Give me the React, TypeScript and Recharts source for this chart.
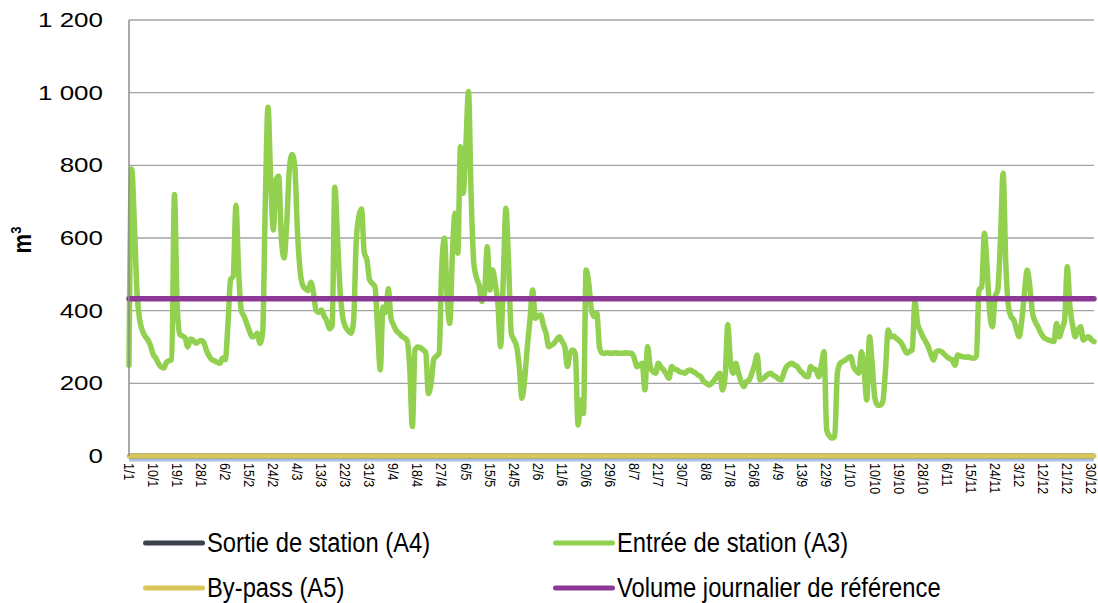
import React from "react";
import { LineChart, Line, XAxis, YAxis, CartesianGrid, ReferenceLine } from "recharts";

// Daily inflow (m3), leap year, 9/7 to 12/7 missing in the source
const ENTREE_A3 = [
  250, 790, 640, 450, 375, 345, 330, 320, 305, 280,
  270, 255, 245, 242, 258, 262, 265, 720, 420, 335,
  330, 325, 300, 322, 318, 310, 315, 318, 312, 290,
  275, 265, 262, 258, 255, 270, 265, 360, 485, 495,
  690, 510, 400, 385, 365, 345, 328, 330, 338, 310,
  340, 700, 960, 760, 622, 760, 770, 600, 545, 640,
  790, 830, 800, 620, 510, 470, 460, 455, 478, 450,
  400, 395, 402, 385, 372, 350, 360, 740, 600, 450,
  380, 355, 345, 338, 370, 590, 660, 680, 560, 540,
  485, 475, 466, 350, 237, 410, 395, 460, 380, 360,
  345, 338, 330, 325, 318, 246, 81, 292, 300, 298,
  292, 285, 172, 200, 265, 275, 283, 520, 599, 440,
  365, 560, 668, 558, 851, 723, 851, 1003, 714, 530,
  490, 470, 425, 448, 576, 457, 512, 475, 420, 301,
  484, 682, 530, 338, 320, 301, 246, 159, 210, 300,
  374, 457, 379, 385, 388, 360, 338, 301, 305, 310,
  320, 328, 315, 301, 246, 283, 292, 280, 85, 154,
  117, 512, 475, 402, 384, 393, 300, 283, 283, 284,
  283, 283, 284, 283, 283, 283, 284, 283, 283, 270,
  246, 250, 255, 182, 301, 246, 232, 228, 255, 245,
  237, 225, 214, 246, 240, 237, 232, 230, 228, 235,
  237, 232, 228, 222, 218, 205, 200, 195, 200, 209,
  220, 228, 182, 218, 361, 260, 228, 255, 228, 205,
  191, 205, 209, 228, 250, 278, 209, 212, 218, 225,
  228, 222, 218, 212, 209, 230, 246, 252, 255, 250,
  246, 235, 228, 220, 218, 246, 240, 237, 218, 250,
  287, 72, 55, 49, 53, 228, 255, 260, 264, 270,
  273, 246, 235, 228, 287, 237, 154, 328, 255, 160,
  140, 140, 150, 237, 347, 328, 330, 324, 318, 310,
  295, 283, 288, 292, 425, 365, 345, 328, 315, 301,
  280, 264, 287, 290, 287, 280, 273, 268, 264, 250,
  278, 275, 273, 272, 273, 270, 269, 275, 457, 466,
  613, 520, 393, 356, 439, 457, 594, 778, 530, 411,
  383, 374, 350, 328, 374, 450, 512, 466, 393, 370,
  356, 340, 328, 322, 319, 317, 315, 365, 328, 350,
  374, 521, 411, 360, 328, 347, 356, 319, 325, 328,
  320, 315,
];

const MONTH_DAYS = [31, 29, 31, 30, 31, 30, 31, 31, 30, 31, 30, 31];
const MISSING_DAYS = ["9/7", "10/7", "11/7", "12/7"];

const TICK_LABELS = [
  "1/1", "10/1", "19/1", "28/1", "6/2", "15/2", "24/2", "4/3", "13/3", "22/3",
  "31/3", "9/4", "18/4", "27/4", "6/5", "15/5", "24/5", "2/6", "11/6", "20/6",
  "29/6", "8/7", "21/7", "30/7", "8/8", "17/8", "26/8", "4/9", "13/9", "22/9",
  "1/10", "10/10", "19/10", "28/10", "6/11", "15/11", "24/11", "3/12", "12/12", "21/12",
  "30/12",
];

const Y_TICKS = [0, 200, 400, 600, 800, 1000, 1200];
const VOLUME_REFERENCE = 433;

const DATES: string[] = [];
MONTH_DAYS.forEach((n, m) => {
  for (let d = 1; d <= n; d++) {
    const s = `${d}/${m + 1}`;
    if (!MISSING_DAYS.includes(s)) DATES.push(s);
  }
});

// station outlet and by-pass both stay at zero all year
const SORTIE_A4 = DATES.map(() => 0);
const BYPASS_A5 = DATES.map(() => 0);

const rows = DATES.map((date, i) => ({
  date,
  sortie: SORTIE_A4[i],
  entree: ENTREE_A3[i],
  bypass: BYPASS_A5[i],
}));

const COLORS = {
  sortie: "#3b424d",
  entree: "#92d050",
  bypass: "#d8c65a",
  reference: "#8c3896",
};

const FONT = '"Liberation Sans", Arial, sans-serif';

function formatThousands(v: number) {
  if (v < 1000) return String(v);
  return `${Math.floor(v / 1000)} ${String(v % 1000).padStart(3, "0")}`;
}

function XTick({ x, y, payload }: any) {
  return (
    <g transform={`translate(${x},${y - 1}) scale(1.2,1) rotate(90)`}>
      <text x={0} y={0} dy="0.35em" textAnchor="start" fontSize={12.5} fontFamily={FONT} fill="#000">
        {payload.value}
      </text>
    </g>
  );
}

function YTick({ x, y, payload }: any) {
  return (
    <g transform={`translate(${x - 18},${y}) scale(1.3,1)`}>
      <text x={0} y={0} dy="0.35em" textAnchor="end" fontSize={20} fontFamily={FONT} fill="#000">
        {formatThousands(payload.value)}
      </text>
    </g>
  );
}

function UnitLabel() {
  return (
    <g transform="translate(31,240) scale(1.15,1) rotate(-90)">
      <text x={0} y={0} textAnchor="middle" fontSize={22} fontWeight="bold" fontFamily={FONT} fill="#000">
        m
        <tspan dy={-9} fontSize={13}>3</tspan>
      </text>
    </g>
  );
}

// light blue base under the zero line
function BaseLine(props: any) {
  return (
    <line x1={props.x1} x2={props.x2} y1={props.y1 + 4} y2={props.y2 + 4} stroke="#a9c1e3" strokeWidth={3} />
  );
}

const LEGEND = [
  { label: "Sortie de station (A4)", color: COLORS.sortie, left: 143, top: 543 },
  { label: "Entrée de station (A3)", color: COLORS.entree, left: 553, top: 543 },
  { label: "By-pass (A5)", color: COLORS.bypass, left: 143, top: 588 },
  { label: "Volume journalier de référence", color: COLORS.reference, left: 553, top: 588 },
];

export default function App() {
  return (
    <div style={{ position: "absolute", left: 0, top: 0, width: 1098, height: 603, background: "#fff" }}>
      <LineChart width={1098} height={603} data={rows} margin={{ top: 20, right: 4, bottom: 0, left: 0 }}>
        <CartesianGrid vertical={false} stroke="#a3a3a3" strokeWidth={1.4} />
        <XAxis
          dataKey="date"
          ticks={TICK_LABELS}
          interval={0}
          height={147}
          tick={<XTick />}
          tickLine={false}
          axisLine={false}
        />
        <YAxis
          domain={[0, 1200]}
          ticks={Y_TICKS}
          width={129}
          tick={<YTick />}
          tickLine={false}
          axisLine={{ stroke: "#8c8c8c", strokeWidth: 1.5 }}
          label={{ content: () => <UnitLabel /> }}
        />
        <ReferenceLine y={0} shape={<BaseLine />} />
        <Line dataKey="sortie" stroke={COLORS.sortie} strokeWidth={5} dot={false} isAnimationActive={false} />
        <Line dataKey="bypass" stroke={COLORS.bypass} strokeWidth={5} dot={false} strokeLinecap="round" isAnimationActive={false} />
        <Line
          type="monotone"
          dataKey="entree"
          stroke={COLORS.entree}
          strokeWidth={5.5}
          strokeLinejoin="round"
          strokeLinecap="round"
          dot={false}
          isAnimationActive={false}
        />
        <ReferenceLine y={VOLUME_REFERENCE} stroke={COLORS.reference} strokeWidth={5.5} strokeLinecap="round" />
      </LineChart>

      {LEGEND.map((item) => (
        <div
          key={item.label}
          style={{
            position: "absolute",
            left: item.left,
            top: item.top,
            transform: "translateY(-50%)",
            display: "flex",
            alignItems: "center",
            whiteSpace: "nowrap",
          }}
        >
          <span style={{ display: "inline-block", width: 62, height: 5, borderRadius: 3, background: item.color }} />
          <span
            style={{
              display: "inline-block",
              marginLeft: 2,
              fontFamily: FONT,
              fontSize: 27,
              color: "#000",
              transform: "scaleX(0.88)",
              transformOrigin: "left center",
            }}
          >
            {item.label}
          </span>
        </div>
      ))}
    </div>
  );
}
